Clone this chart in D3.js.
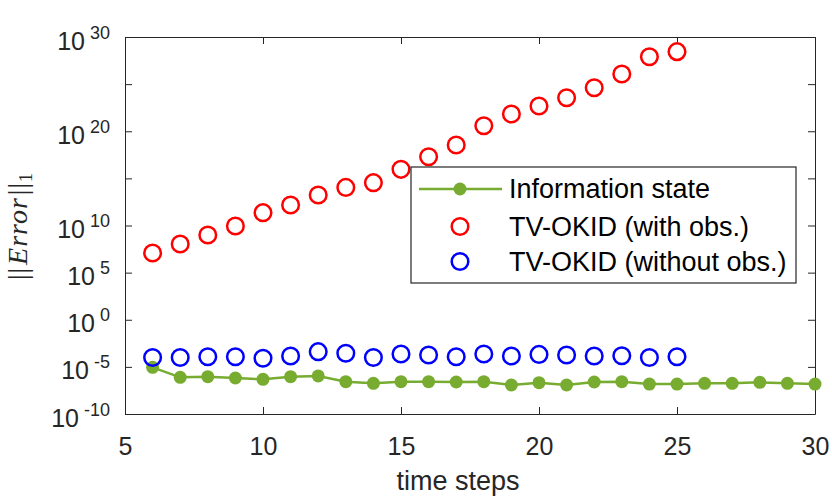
<!DOCTYPE html>
<html>
<head>
<meta charset="utf-8">
<script src="https://cdn.jsdelivr.net/npm/d3@7/dist/d3.min.js"></script>
<style>
	body { margin: 0; background: #fff; }
	svg text { font-family: "Liberation Sans", Arial, Helvetica, sans-serif; fill: #262626; }
</style>
</head>
<body>
<svg id="chart" width="832" height="500"></svg>
<script>
( function() {

	"use strict";

	//data
	var timeSteps = [ 6, 7, 8, 9, 10, 11, 12, 13, 14, 15, 16, 17, 18, 19, 20, 21, 22, 23, 24, 25, 26, 27, 28, 29, 30 ];
	var infoState = [ 8.9e-6, 7.8e-7, 9.1e-7, 6.6e-7, 4.8e-7, 9.1e-7, 1.1e-6, 2.7e-7, 1.8e-7, 2.7e-7,
		2.7e-7, 2.5e-7, 2.7e-7, 1.2e-7, 2.1e-7, 1.2e-7, 2.5e-7, 2.7e-7, 1.5e-7, 1.5e-7,
		1.8e-7, 1.8e-7, 2.3e-7, 1.8e-7, 1.5e-7 ];
	var okidSteps = [ 6, 7, 8, 9, 10, 11, 12, 13, 14, 15, 16, 17, 18, 19, 20, 21, 22, 23, 24, 25 ];
	var okidWithObs = [ 1.2e7, 1.1e8, 1e9, 8.9e9, 2.3e11, 1.5e12, 1.7e13, 1.1e14, 3.5e14, 9.1e15,
		2.0e17, 3.5e18, 3.9e20, 6.8e21, 4.8e22, 3.6e23, 4.2e24, 1.2e26, 7.9e27, 2.8e28 ];
	var okidWithoutObs = [ 1.0e-4, 1.0e-4, 1.2e-4, 1.2e-4, 8.1e-5, 1.4e-4, 4.1e-4, 2.8e-4, 1.0e-4, 2.3e-4,
		1.8e-4, 1.2e-4, 2.3e-4, 1.4e-4, 2.1e-4, 1.8e-4, 1.4e-4, 1.5e-4, 1.0e-4, 1.2e-4 ];

	var xTicks = [ 5, 10, 15, 20, 25, 30 ];
	var yTicks = [ 1e-10, 1e-5, 1, 1e5, 1e10, 1e15, 1e20, 1e25, 1e30 ];
	//exponent shown next to each y tick, empty means no label
	var yTickExponents = [ "-10", "-5", "0", "5", "10", "", "20", "", "30" ];
	var legendLabels = [ "Information state", "TV-OKID (with obs.)", "TV-OKID (without obs.)" ];

	var axisColor = "#262626",
		green = "#77ac30",
		tickLen = 7,
		left = 125, right = 815, top = 37, bottom = 414;

	var svg = d3.select( "#chart" );

	var x = d3.scaleLinear().domain( [ 5, 30 ] ).range( [ left, right ] ),
		y = d3.scaleLog().domain( [ 1e-10, 1e30 ] ).range( [ bottom, top ] );

	var styleAxis = function( g ) {
		g.selectAll( "path.domain" ).attr( "stroke", axisColor ).attr( "stroke-width", 1 );
		g.selectAll( ".tick line" ).attr( "stroke", axisColor ).attr( "stroke-width", 1 );
		g.selectAll( ".tick text" ).attr( "fill", axisColor ).style( "font-size", "25px" );
	};

	//box: bottom/left carry the labels, top/right ticks only
	svg.append( "g" )
		.attr( "transform", "translate(0," + bottom + ")" )
		.call( d3.axisBottom( x ).tickValues( xTicks ).tickSizeInner( -tickLen ).tickSizeOuter( 0 ).tickPadding( 23 ) )
		.call( styleAxis );
	svg.append( "g" )
		.attr( "transform", "translate(0," + top + ")" )
		.call( d3.axisTop( x ).tickValues( xTicks ).tickSizeInner( -tickLen ).tickSizeOuter( 0 ).tickFormat( "" ) )
		.call( styleAxis );
	var yAxisG = svg.append( "g" )
		.attr( "transform", "translate(" + left + ",0)" )
		.call( d3.axisLeft( y ).tickValues( yTicks ).tickSizeInner( -tickLen ).tickSizeOuter( 0 ).tickFormat( "" ) )
		.call( styleAxis );
	svg.append( "g" )
		.attr( "transform", "translate(" + right + ",0)" )
		.call( d3.axisRight( y ).tickValues( yTicks ).tickSizeInner( -tickLen ).tickSizeOuter( 0 ).tickFormat( "" ) )
		.call( styleAxis );

	//power-of-ten labels with superscript
	yAxisG.selectAll( ".tick text" ).each( function( d, i ) {
		var t = d3.select( this ),
			ex = yTickExponents[ i ];
		if( !ex ) {
			return;
		}
		t.attr( "x", -15 ).attr( "y", 12 ).attr( "dy", null ).attr( "text-anchor", "end" );
		t.append( "tspan" ).text( "10" );
		t.append( "tspan" ).attr( "dx", 5 ).attr( "dy", -11 ).style( "font-size", "18px" ).text( ex );
	} );

	//axis labels
	svg.append( "text" )
		.attr( "x", 458 ).attr( "y", 490 )
		.attr( "text-anchor", "middle" )
		.style( "font-size", "27px" )
		.text( "time steps" );

	var yLabel = svg.append( "text" )
		.attr( "transform", "translate(27,226) rotate(-90)" )
		.attr( "text-anchor", "middle" )
		.style( "font-family", "'Liberation Serif', 'DejaVu Serif', serif" )
		.style( "font-size", "28px" )
		.style( "letter-spacing", "1px" );
	yLabel.append( "tspan" ).text( "||" );
	yLabel.append( "tspan" ).style( "font-style", "italic" ).attr( "dx", 2 ).text( "Error" );
	yLabel.append( "tspan" ).attr( "dx", 2 ).text( "||" );
	yLabel.append( "tspan" ).attr( "dy", 5 ).style( "font-size", "18px" ).text( "1" );

	//information state: line + filled dots
	var infoPts = timeSteps.map( function( t, i ) { return [ t, infoState[ i ] ]; } );
	svg.append( "path" )
		.datum( infoPts )
		.attr( "fill", "none" )
		.attr( "stroke", green )
		.attr( "stroke-width", 2.5 )
		.attr( "d", d3.line().x( function( d ) { return x( d[ 0 ] ); } ).y( function( d ) { return y( d[ 1 ] ); } ) );
	svg.append( "g" ).selectAll( "circle" ).data( infoPts ).enter()
		.append( "circle" )
		.attr( "cx", function( d ) { return x( d[ 0 ] ); } )
		.attr( "cy", function( d ) { return y( d[ 1 ] ); } )
		.attr( "r", 6.5 )
		.attr( "fill", green );

	var drawRings = function( values, color ) {
		svg.append( "g" ).selectAll( "circle" ).data( values ).enter()
			.append( "circle" )
			.attr( "cx", function( d, i ) { return x( okidSteps[ i ] ); } )
			.attr( "cy", function( d ) { return y( d ); } )
			.attr( "r", 8.3 )
			.attr( "fill", "none" )
			.attr( "stroke", color )
			.attr( "stroke-width", 2.5 );
	};
	drawRings( okidWithObs, "#ff0000" );
	drawRings( okidWithoutObs, "#0000ff" );

	//legend
	var lg = svg.append( "g" ).attr( "class", "legend" );
	lg.append( "rect" )
		.attr( "x", 411 ).attr( "y", 167 )
		.attr( "width", 385 ).attr( "height", 116 )
		.attr( "fill", "#fff" )
		.attr( "stroke", axisColor )
		.attr( "stroke-width", 1.2 );

	var rowY = [ 189, 226.5, 261.5 ];
	lg.append( "line" )
		.attr( "x1", 419 ).attr( "x2", 502 )
		.attr( "y1", rowY[ 0 ] ).attr( "y2", rowY[ 0 ] )
		.attr( "stroke", green ).attr( "stroke-width", 2.5 );
	lg.append( "circle" ).attr( "cx", 460 ).attr( "cy", rowY[ 0 ] ).attr( "r", 6.5 ).attr( "fill", green );
	lg.append( "circle" ).attr( "cx", 460 ).attr( "cy", rowY[ 1 ] ).attr( "r", 8.3 )
		.attr( "fill", "none" ).attr( "stroke", "#ff0000" ).attr( "stroke-width", 2.5 );
	lg.append( "circle" ).attr( "cx", 460 ).attr( "cy", rowY[ 2 ] ).attr( "r", 8.3 )
		.attr( "fill", "none" ).attr( "stroke", "#0000ff" ).attr( "stroke-width", 2.5 );

	lg.selectAll( "text.legend-label" ).data( legendLabels ).enter()
		.append( "text" )
		.attr( "class", "legend-label" )
		.attr( "x", 509 )
		.attr( "y", function( d, i ) { return rowY[ i ] + 9; } )
		.style( "font-size", "27px" )
		.style( "fill", "#000" )
		.text( function( d ) { return d; } );

})();
</script>
</body>
</html>
